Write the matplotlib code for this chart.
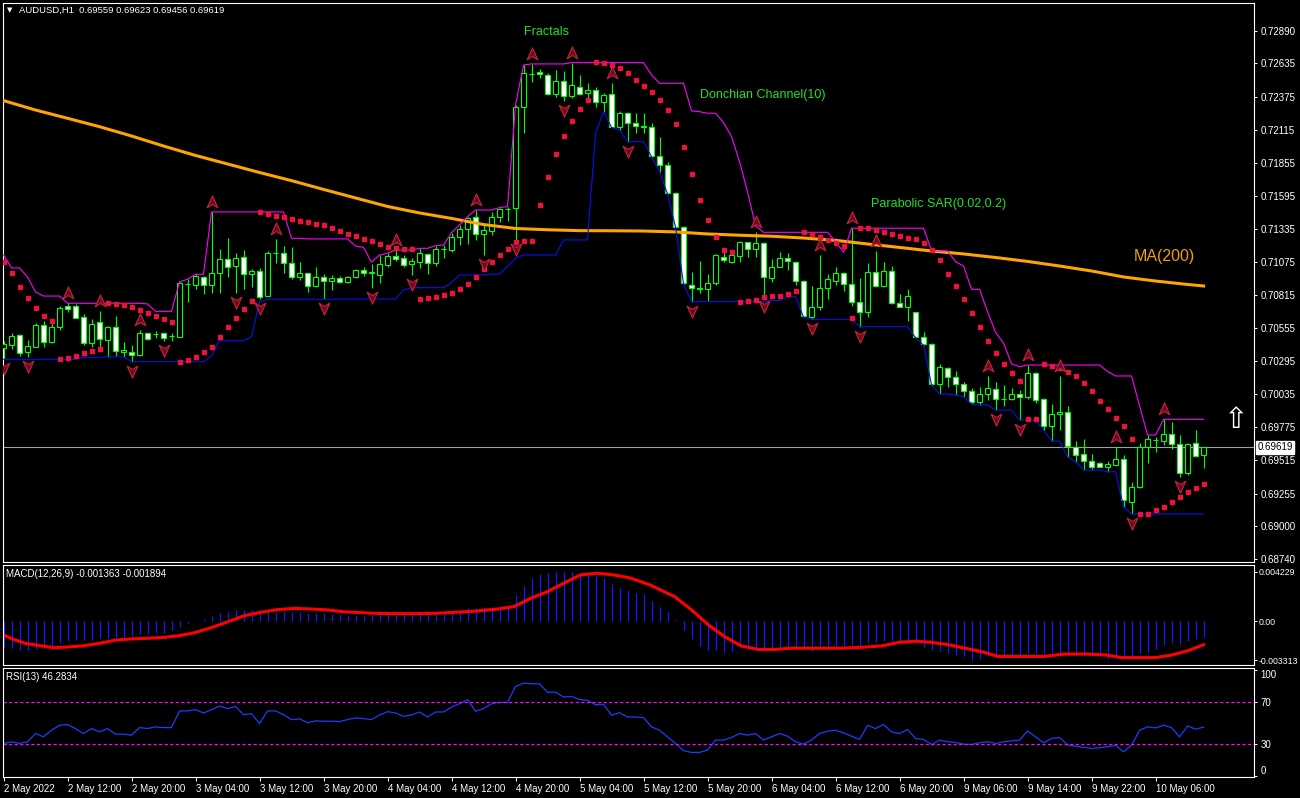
import numpy as np
import pandas as pd
import matplotlib
matplotlib.use("Agg")
import matplotlib.pyplot as plt
import matplotlib.transforms as mtransforms
from matplotlib.patches import Rectangle
from matplotlib.path import Path

plt.rcParams['font.family'] = ['Liberation Sans', 'DejaVu Sans']

# ---- data: AUDUSD H1, 151 bars ----
open_ = [0.70399, 0.70422, 0.70501, 0.70367, 0.70409, 0.70577, 0.70448, 0.70561, 0.70729, 0.70729,
         0.70640, 0.70440, 0.70605, 0.70464, 0.70564, 0.70370, 0.70365, 0.70341, 0.70514, 0.70509,
         0.70514, 0.70493, 0.70488, 0.70902, 0.70896, 0.70955, 0.70896, 0.70991, 0.71096, 0.71043,
         0.71112, 0.70978, 0.71002, 0.70810, 0.71145, 0.71143, 0.71065, 0.70959, 0.70986, 0.70888,
         0.70955, 0.70928, 0.70947, 0.70920, 0.70959, 0.71012, 0.70991, 0.70973, 0.71051, 0.71122,
         0.71104, 0.71057, 0.71077, 0.71135, 0.71065, 0.71177, 0.71169, 0.71269, 0.71332, 0.71426,
         0.71292, 0.71321, 0.71431, 0.71489, 0.71497, 0.72295, 0.72552, 0.72568, 0.72542, 0.72393,
         0.72495, 0.72382, 0.72453, 0.72401, 0.72427, 0.72335, 0.72393, 0.72138, 0.72244, 0.72165,
         0.72144, 0.72133, 0.71908, 0.71835, 0.71615, 0.71352, 0.70892, 0.70868, 0.70861, 0.70907,
         0.71116, 0.71077, 0.71124, 0.71230, 0.71177, 0.71222, 0.70951, 0.71038, 0.71104, 0.71077,
         0.70928, 0.70645, 0.70723, 0.70868, 0.70928, 0.70986, 0.70899, 0.70758, 0.70679, 0.70994,
         0.70888, 0.71006, 0.70750, 0.70723, 0.70679, 0.70483, 0.70428, 0.70113, 0.70239, 0.70174,
         0.70113, 0.70063, 0.69977, 0.70036, 0.70074, 0.69996, 0.69998, 0.70041, 0.70014, 0.70201,
         0.69996, 0.69788, 0.69878, 0.69893, 0.69623, 0.69563, 0.69511, 0.69497, 0.69466, 0.69479,
         0.69524, 0.69191, 0.69304, 0.69618, 0.69678, 0.69670, 0.69720, 0.69642, 0.69417, 0.69650,
         0.69559]
high = [0.70454, 0.70517, 0.70506, 0.70462, 0.70593, 0.70611, 0.70601, 0.70729, 0.70750, 0.70745,
        0.70666, 0.70624, 0.70687, 0.70572, 0.70650, 0.70444, 0.70422, 0.70538, 0.70519, 0.70535,
        0.70519, 0.70519, 0.70918, 0.70939, 0.70978, 0.70965, 0.71468, 0.71175, 0.71261, 0.71143,
        0.71169, 0.71020, 0.71025, 0.71163, 0.71256, 0.71200, 0.71190, 0.71072, 0.70991, 0.71033,
        0.70980, 0.70973, 0.70965, 0.70967, 0.71020, 0.71038, 0.71059, 0.71130, 0.71143, 0.71169,
        0.71130, 0.71104, 0.71182, 0.71143, 0.71203, 0.71208, 0.71305, 0.71366, 0.71431, 0.71483,
        0.71366, 0.71470, 0.71502, 0.71509, 0.72309, 0.72623, 0.72631, 0.72589, 0.72558, 0.72584,
        0.72578, 0.72641, 0.72545, 0.72479, 0.72453, 0.72401, 0.72479, 0.72262, 0.72256, 0.72244,
        0.72244, 0.72170, 0.72060, 0.71863, 0.71625, 0.71358, 0.70994, 0.71083, 0.70980, 0.71138,
        0.71182, 0.71164, 0.71240, 0.71234, 0.71308, 0.71234, 0.71098, 0.71151, 0.71143, 0.71083,
        0.70933, 0.70886, 0.71130, 0.70980, 0.71038, 0.70994, 0.71340, 0.70947, 0.71065, 0.71161,
        0.71077, 0.71043, 0.70823, 0.70860, 0.70684, 0.70522, 0.70436, 0.70273, 0.70252, 0.70220,
        0.70134, 0.70082, 0.70095, 0.70179, 0.70134, 0.70108, 0.70082, 0.70069, 0.70265, 0.70214,
        0.70004, 0.69959, 0.70179, 0.69943, 0.69668, 0.69684, 0.69566, 0.69503, 0.69513, 0.69618,
        0.69558, 0.69343, 0.69650, 0.69715, 0.69697, 0.69838, 0.69815, 0.69715, 0.69650, 0.69754,
        0.69623]
low = [0.70310, 0.70391, 0.70338, 0.70326, 0.70404, 0.70409, 0.70440, 0.70540, 0.70682, 0.70632,
       0.70425, 0.70409, 0.70409, 0.70330, 0.70338, 0.70330, 0.70291, 0.70336, 0.70462, 0.70480,
       0.70456, 0.70456, 0.70487, 0.70763, 0.70865, 0.70826, 0.70829, 0.70833, 0.70955, 0.70829,
       0.70862, 0.70880, 0.70782, 0.70807, 0.71069, 0.70991, 0.70939, 0.70933, 0.70841, 0.70880,
       0.70784, 0.70855, 0.70907, 0.70912, 0.70947, 0.70967, 0.70873, 0.70912, 0.71038, 0.71085,
       0.71038, 0.70973, 0.71025, 0.70980, 0.71043, 0.71104, 0.71156, 0.71208, 0.71216, 0.71248,
       0.71130, 0.71287, 0.71391, 0.71399, 0.71248, 0.72086, 0.72492, 0.72519, 0.72387, 0.72374,
       0.72342, 0.72361, 0.72387, 0.72361, 0.72295, 0.72256, 0.72133, 0.72112, 0.72020, 0.72086,
       0.72086, 0.71902, 0.71784, 0.71609, 0.71347, 0.70902, 0.70763, 0.70829, 0.70771, 0.70894,
       0.71077, 0.71065, 0.71077, 0.71116, 0.71116, 0.70802, 0.70920, 0.71033, 0.71012, 0.70894,
       0.70640, 0.70624, 0.70697, 0.70784, 0.70894, 0.70849, 0.70731, 0.70566, 0.70645, 0.70876,
       0.70876, 0.70742, 0.70721, 0.70613, 0.70480, 0.70420, 0.70108, 0.70037, 0.70095, 0.70029,
       0.70016, 0.69959, 0.69951, 0.69990, 0.69911, 0.69945, 0.69990, 0.69833, 0.69996, 0.69964,
       0.69754, 0.69668, 0.69754, 0.69544, 0.69505, 0.69440, 0.69440, 0.69461, 0.69426, 0.69471,
       0.69151, 0.69094, 0.69296, 0.69493, 0.69584, 0.69636, 0.69603, 0.69386, 0.69399, 0.69544,
       0.69456]
close = [0.70430, 0.70493, 0.70362, 0.70412, 0.70577, 0.70448, 0.70564, 0.70713, 0.70708, 0.70637,
         0.70440, 0.70585, 0.70467, 0.70564, 0.70378, 0.70381, 0.70341, 0.70514, 0.70467, 0.70511,
         0.70480, 0.70495, 0.70907, 0.70900, 0.70962, 0.70896, 0.70986, 0.71096, 0.71038, 0.71104,
         0.70978, 0.71004, 0.70802, 0.71143, 0.71148, 0.71069, 0.70959, 0.70986, 0.70888, 0.70955,
         0.70928, 0.70951, 0.70920, 0.70955, 0.71012, 0.70991, 0.70994, 0.71057, 0.71122, 0.71101,
         0.71054, 0.71083, 0.71143, 0.71065, 0.71175, 0.71179, 0.71269, 0.71334, 0.71418, 0.71292,
         0.71324, 0.71431, 0.71489, 0.71491, 0.72295, 0.72558, 0.72553, 0.72550, 0.72393, 0.72495,
         0.72382, 0.72466, 0.72393, 0.72427, 0.72335, 0.72387, 0.72138, 0.72244, 0.72165, 0.72144,
         0.72138, 0.71908, 0.71835, 0.71615, 0.71352, 0.70907, 0.70868, 0.70865, 0.70907, 0.71130,
         0.71090, 0.71130, 0.71230, 0.71177, 0.71222, 0.70959, 0.71033, 0.71104, 0.71085, 0.70928,
         0.70650, 0.70723, 0.70868, 0.70939, 0.70986, 0.70899, 0.70758, 0.70679, 0.70994, 0.70888,
         0.71006, 0.70750, 0.70723, 0.70810, 0.70488, 0.70428, 0.70116, 0.70247, 0.70174, 0.70113,
         0.70063, 0.69977, 0.70036, 0.70082, 0.69996, 0.69998, 0.70041, 0.70014, 0.70201, 0.69990,
         0.69788, 0.69878, 0.69898, 0.69631, 0.69558, 0.69513, 0.69461, 0.69466, 0.69485, 0.69524,
         0.69204, 0.69304, 0.69618, 0.69681, 0.69676, 0.69720, 0.69642, 0.69417, 0.69642, 0.69552,
         0.69619]

# highs / lows of the 9 bars before the window
hist_high = [0.71130, 0.71028, 0.71028, 0.70957, 0.70839, 0.70807, 0.70807, 0.70807, 0.70745]
hist_low = [0.70367] * 9

psar = [0.71075, 0.70991, 0.70878, 0.70792, 0.70713, 0.70650, 0.70611, 0.70312, 0.70323, 0.70336,
        0.70357, 0.70375, 0.70391, 0.70750, 0.70745, 0.70734, 0.70721, 0.70697, 0.70674, 0.70650,
        0.70627, 0.70603, 0.70289, 0.70304, 0.70328, 0.70367, 0.70409, 0.70483, 0.70564, 0.70632,
        0.70703, 0.70768, 0.71468, 0.71450, 0.71436, 0.71426, 0.71410, 0.71397, 0.71387, 0.71373,
        0.71363, 0.71342, 0.71318, 0.71292, 0.71275, 0.71253, 0.71236, 0.71215, 0.71195, 0.71182,
        0.71175, 0.71175, 0.70784, 0.70792, 0.70800, 0.70814, 0.70829, 0.70860, 0.70899, 0.70955,
        0.71017, 0.71075, 0.71127, 0.71175, 0.71230, 0.71240, 0.71240, 0.71523, 0.71743, 0.71922,
        0.72065, 0.72183, 0.72277, 0.72348, 0.72647, 0.72639, 0.72623, 0.72597, 0.72563, 0.72503,
        0.72458, 0.72411, 0.72348, 0.72269, 0.72159, 0.71979, 0.71766, 0.71562, 0.71405, 0.71271,
        0.71169, 0.71152, 0.70763, 0.70771, 0.70776, 0.70797, 0.70807, 0.70807, 0.70822, 0.70847,
        0.71311, 0.71295, 0.71274, 0.71250, 0.71226, 0.71200, 0.70632, 0.71342, 0.71342, 0.71325,
        0.71311, 0.71293, 0.71279, 0.71265, 0.71254, 0.71224, 0.71169, 0.71090, 0.70980, 0.70886,
        0.70784, 0.70674, 0.70565, 0.70455, 0.70359, 0.70275, 0.70202, 0.70139, 0.69837, 0.69837,
        0.70271, 0.70259, 0.70245, 0.70210, 0.70179, 0.70121, 0.70057, 0.69982, 0.69917, 0.69847,
        0.69786, 0.69682, 0.69094, 0.69094, 0.69125, 0.69149, 0.69186, 0.69228, 0.69265, 0.69298,
        0.69327]

ma_bars = [0, 4, 8, 12, 16, 20, 24, 28, 32, 36, 40, 44, 48, 52, 56, 60, 64, 68, 72, 76,
           80, 84, 88, 92, 96, 100, 104, 108, 112, 116, 120, 124, 128, 132, 136, 140, 144, 148, 150]
ma200 = [0.72343, 0.72269, 0.72204, 0.72138, 0.72065, 0.71986, 0.71912, 0.71845, 0.71778, 0.71714,
         0.71645, 0.71578, 0.71511, 0.71460, 0.71417, 0.71369, 0.71338, 0.71328, 0.71321, 0.71320,
         0.71318, 0.71311, 0.71295, 0.71285, 0.71277, 0.71263, 0.71245, 0.71216, 0.71189, 0.71161,
         0.71138, 0.71110, 0.71079, 0.71043, 0.71004, 0.70957, 0.70925, 0.70898, 0.70886]

fractal_up = [8, 12, 17, 26, 34, 49, 59, 66, 71, 76, 94, 102, 106, 109, 123, 128, 132, 139, 145]
fractal_dn = [0, 3, 16, 20, 29, 32, 40, 46, 51, 60, 64, 70, 78, 86, 95, 101, 107, 124, 127, 141, 147]

macd_hist = [-0.00216, -0.0023, -0.00245, -0.00245, -0.0024, -0.0023, -0.0022, -0.00188, -0.00171, -0.00162,
             -0.00156, -0.00156, -0.0014, -0.0014, -0.0013, -0.0013, -0.00125, -0.00108, -0.00108, -0.001,
             -0.00097, -0.00074, -0.0005, -0.00011, 0.00003, 0.0002, 0.00045, 0.00068, 0.00082, 0.001,
             0.001, 0.001, 0.0008, 0.0009, 0.0008, 0.0009, 0.0008, 0.0008, 0.00068, 0.0007,
             0.00068, 0.0006, 0.0006, 0.00054, 0.00054, 0.00048, 0.00054, 0.0006, 0.0006, 0.0006,
             0.0006, 0.0006, 0.0006, 0.00068, 0.00068, 0.00074, 0.0008, 0.00097, 0.0011, 0.0011,
             0.0012, 0.0012, 0.0013, 0.0014, 0.0022, 0.0030, 0.0037, 0.0040, 0.00412, 0.0042,
             0.004229, 0.00422, 0.00412, 0.0041, 0.0039, 0.0037, 0.0032, 0.0028, 0.0027, 0.0024,
             0.0023, 0.0017, 0.00125, 0.00082, 0.0001, -0.00074, -0.00154, -0.0021, -0.00245, -0.00245,
             -0.0026, -0.0025, -0.0022, -0.0022, -0.0023, -0.0025, -0.0024, -0.0022, -0.0022, -0.0023,
             -0.0024, -0.0025, -0.0023, -0.0022, -0.0021, -0.0021, -0.002, -0.0021, -0.00188, -0.0018,
             -0.0017, -0.0017, -0.0017, -0.0017, -0.00188, -0.00216, -0.00245, -0.0025, -0.0027, -0.00287,
             -0.003, -0.003313, -0.0032, -0.003, -0.003, -0.003, -0.00287, -0.00287, -0.0027, -0.0027,
             -0.0027, -0.0027, -0.0027, -0.0028, -0.00287, -0.003, -0.003, -0.003, -0.0032, -0.0031,
             -0.00287, -0.0032, -0.0027, -0.0026, -0.0024, -0.002, -0.00188, -0.0019, -0.0017, -0.0015,
             -0.001363]
sig_bars = [0, 1.1, 2.7, 4.7, 6.3, 7.9, 9.9, 12, 14.1, 16.1, 18.2, 20.3, 21.8, 23.9, 26, 28.1, 30.1,
            32.2, 34.3, 36.4, 38.4, 40.5, 42.6, 44.7, 46.2, 48.8, 51.4, 54, 56.6, 59.2, 61.8, 63.8,
            65.9, 68, 70, 72.1, 74.2, 76.3, 78.3, 80.8, 83.9, 86, 88.1, 90.1, 92.2, 94.3, 96.4, 98.4,
            101.5, 104.7, 107.8, 109.8, 111.9, 114, 116, 118.1, 120.2, 122.3, 124.3, 127.4, 130,
            132.6, 135.2, 137.7, 139.8, 141.9, 144, 146.1, 148.1, 150]
sig_vals = [-0.00117, -0.0015, -0.00188, -0.0021, -0.00225, -0.0022, -0.0021, -0.00188, -0.0016, -0.0015,
            -0.00145, -0.00136, -0.00125, -0.00097, -0.00054, -0.00003, 0.00048, 0.00077, 0.001, 0.0011,
            0.00105, 0.00097, 0.0008, 0.00074, 0.00068, 0.00065, 0.00065, 0.00068, 0.00077, 0.00088,
            0.00105, 0.00125, 0.00196, 0.00253, 0.00324, 0.00395, 0.0041, 0.00395, 0.0037, 0.0031,
            0.0021, 0.00097, -0.00031, -0.0013, -0.0021, -0.0024, -0.0024, -0.0023, -0.0023, -0.0023,
            -0.0022, -0.0021, -0.0018, -0.0017, -0.0018, -0.002, -0.0023, -0.0026, -0.003, -0.003,
            -0.003, -0.0028, -0.0028, -0.00287, -0.0031, -0.0031, -0.0031, -0.00287, -0.0025, -0.0020]

rsi = [30.9, 32.5, 31.0, 32.5, 40.3, 37.2, 43.4, 48.0, 48.8, 45.0,
       40.3, 45.0, 41.9, 45.0, 39.7, 39.7, 38.8, 45.9, 45.0, 46.6,
       45.9, 45.9, 61.6, 61.6, 62.8, 59.7, 62.8, 66.3, 63.8, 65.9,
       58.1, 59.0, 49.7, 61.6, 61.6, 58.1, 53.4, 54.1, 50.6, 52.2,
       51.9, 51.9, 51.6, 53.4, 55.0, 54.4, 53.4, 57.8, 60.9, 59.7,
       56.6, 57.8, 60.6, 55.9, 60.6, 60.6, 65.3, 68.4, 72.2, 61.3,
       63.8, 68.4, 69.7, 69.7, 84.7, 87.8, 87.2, 87.2, 79.1, 79.4,
       74.7, 75.3, 72.5, 71.6, 67.5, 67.8, 57.5, 60.0, 55.9, 55.9,
       55.3, 46.6, 43.4, 37.2, 30.9, 24.1, 22.5, 22.5, 24.7, 34.1,
       34.1, 36.6, 40.3, 38.8, 40.3, 34.1, 37.2, 40.3, 37.8, 32.5,
       30.3, 34.1, 40.3, 42.5, 43.4, 40.9, 37.8, 34.7, 48.1, 45.0,
       48.8, 41.9, 40.3, 44.1, 35.6, 34.7, 30.0, 34.1, 32.5, 31.9,
       30.3, 30.0, 31.6, 32.5, 30.9, 32.5, 33.4, 34.1, 42.8, 37.2,
       31.6, 35.6, 36.6, 29.4, 28.4, 27.2, 26.3, 26.9, 27.8, 29.1,
       23.1, 29.4, 43.4, 46.6, 45.6, 48.1, 45.9, 37.2, 47.5, 44.4,
       46.28]

price_ticks = [0.72890, 0.72635, 0.72375, 0.72115, 0.71855, 0.71595, 0.71335, 0.71075, 0.70815,
               0.70555, 0.70295, 0.70035, 0.69775, 0.69515, 0.69255, 0.69000, 0.68740]
time_ticks = list(range(0, 145, 8))
time_labels = ['2 May 2022', '2 May 12:00', '2 May 20:00', '3 May 04:00', '3 May 12:00',
               '3 May 20:00', '4 May 04:00', '4 May 12:00', '4 May 20:00', '5 May 04:00',
               '5 May 12:00', '5 May 20:00', '6 May 04:00', '6 May 12:00', '6 May 20:00',
               '9 May 06:00', '9 May 14:00', '9 May 22:00', '10 May 06:00']
last_price = 0.69619

GREEN = '#00ff00'
n = len(close)
x = np.arange(n)
o = np.array(open_); h = np.array(high); l = np.array(low); c = np.array(close)

# Donchian(10)
hh = pd.Series(hist_high + high).rolling(10).max().values[-n:]
ll = pd.Series(hist_low + low).rolling(10).min().values[-n:]

fig = plt.figure(figsize=(13, 7.98), dpi=100, facecolor='black')
W, H = 1300, 798
ax = fig.add_axes([3 / W, 1 - 562 / H, 1251 / W, 559 / H])
axm = fig.add_axes([3 / W, 1 - 665 / H, 1251 / W, 100 / H])
axr = fig.add_axes([3 / W, 1 - 777 / H, 1251 / W, 109 / H])

for a in (ax, axm, axr):
    a.set_facecolor('black')
    for s in a.spines.values():
        s.set_color('white')
        s.set_linewidth(0.8)
    a.yaxis.tick_right()
    a.tick_params(axis='y', colors='white', labelsize=7, length=2.5, width=0.7, pad=2)
    a.set_xlim(-0.0625, 156.3)
    a.tick_params(axis='x', bottom=False, labelbottom=False)

# ---- main price panel ----
ax.set_ylim(0.68717, 0.73110)
ax.set_yticks(price_ticks)
ax.set_yticklabels(['%.5f' % v for v in price_ticks])

ax.axhline(last_price, color='#a0a0a0', lw=0.8, zorder=1)

ax.vlines(x, l, h, color=GREEN, lw=0.8, zorder=2)
for i in range(n):
    bull = c[i] >= o[i]
    b0, b1 = min(o[i], c[i]), max(o[i], c[i])
    ax.add_patch(Rectangle((i - 0.31, b0), 0.62, b1 - b0,
                           facecolor='black' if bull else 'white',
                           edgecolor=GREEN, lw=0.8, zorder=3))

ax.plot(ma_bars, ma200, color='#ffa500', lw=2.2, zorder=4)
ax.plot(x, hh, color='#ff00ff', lw=0.8, zorder=4)
ax.plot(x, ll, color='#0a10f0', lw=0.8, zorder=4)
ax.plot(x, psar, linestyle='none', marker='s', ms=2.2, mfc='#e8143c', mec='#e8143c', zorder=5)

codes = [Path.MOVETO, Path.LINETO, Path.LINETO, Path.LINETO, Path.CLOSEPOLY]
up_arrow = Path([(0, 1), (0.8, -0.8), (0, -0.3), (-0.8, -0.8), (0, 1)], codes)
dn_arrow = Path([(0, -1), (0.8, 0.8), (0, 0.3), (-0.8, 0.8), (0, -1)], codes)
up_tr = mtransforms.offset_copy(ax.transData, fig=fig, x=0, y=10, units='dots')
dn_tr = mtransforms.offset_copy(ax.transData, fig=fig, x=0, y=-9, units='dots')
ax.plot(fractal_up, h[fractal_up], linestyle='none', marker=up_arrow, ms=9.5,
        mfc='#6e0c1c', mec='#c42440', mew=0.8, transform=up_tr, zorder=6)
ax.plot(fractal_dn, l[fractal_dn], linestyle='none', marker=dn_arrow, ms=9.5,
        mfc='#6e0c1c', mec='#c42440', mew=0.8, transform=dn_tr, zorder=6)

lbl = '#22e022'
ax.text(67.9, 0.72883, 'Fractals', color=lbl, fontsize=9, ha='center', va='center')
ax.text(94.9, 0.72387, 'Donchian Channel(10)', color=lbl, fontsize=9, ha='center', va='center')
ax.text(116.9, 0.71531, 'Parabolic SAR(0.02,0.2)', color=lbl, fontsize=9, ha='center', va='center')
ax.text(145.1, 0.71114, 'MA(200)', color='#f0a000', fontsize=11.5, ha='center', va='center')
ax.text(153.9, 0.69833, '\u21e7', color='white', fontsize=21, ha='center', va='center',
        family='DejaVu Sans')

ax.annotate('%.5f' % last_price, xy=(1, last_price),
            xycoords=ax.get_yaxis_transform(), xytext=(2.5, 0), textcoords='offset points',
            ha='left', va='center', fontsize=7, color='black',
            bbox=dict(boxstyle='square,pad=0.15', fc='white', ec='white'),
            annotation_clip=False)

fig.text(10 / W, 1 - 10 / H, '\u25bc', color='white', fontsize=5, ha='center', va='center',
         family='DejaVu Sans')
fig.text(19 / W, 1 - 10 / H, 'AUDUSD,H1  0.69559 0.69623 0.69456 0.69619', color='white',
         fontsize=6.8, ha='left', va='center')

# ---- MACD panel ----
axm.set_ylim(-0.00373, 0.0048)
axm.vlines(x, 0, macd_hist, color='#1a1aff', lw=0.9)
axm.plot(sig_bars, sig_vals, color='#ff0000', lw=2.2)
axm.set_yticks([0.004229, 0.0, -0.003313])
axm.set_yticklabels(['0.004229', '0.00', '-0.003313'])
axm.tick_params(axis='y', labelsize=6.3, pad=1)
fig.text(6 / W, 1 - 574 / H, 'MACD(12,26,9) -0.001363 -0.001894', color='white',
         fontsize=7, ha='left', va='center')

# ---- RSI panel ----
axr.set_ylim(-0.7, 102.1)
axr.plot(x, rsi, color='#1e3cff', lw=0.9)
for lev in (70, 30):
    axr.axhline(lev, color='#ff00ff', lw=0.8, linestyle=(0, (3, 2)))
axr.set_yticks([100, 70, 30, 0])
axr.set_yticklabels(['100', '70', '30', '0'])
tl = axr.get_yticklabels()
tl[0].set_va('top')
tl[3].set_va('bottom')
fig.text(6 / W, 1 - 677 / H, 'RSI(13) 46.2834', color='white', fontsize=7, ha='left', va='center')

axr.tick_params(axis='x', bottom=True, labelbottom=True, colors='white', labelsize=7,
                length=3, width=0.7, pad=2)
axr.set_xticks(time_ticks)
axr.set_xticklabels(time_labels, ha='left')

fig.savefig('out.png', dpi=100, facecolor='black')
